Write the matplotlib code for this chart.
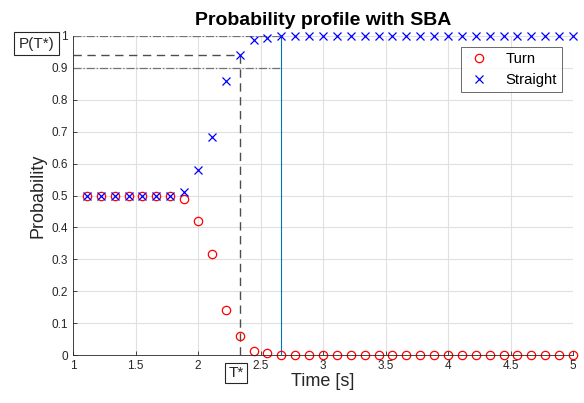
import numpy as np
import matplotlib
matplotlib.use("Agg")
import matplotlib.pyplot as plt

plt.rcParams['font.family'] = ['Liberation Sans', 'DejaVu Sans']

# Data
k = np.arange(10, 46)
time = k / 9.0
turn = [0.5, 0.5, 0.5, 0.5, 0.5, 0.5, 0.5, 0.488, 0.42, 0.317, 0.142, 0.061, 0.011, 0.005] + [0.0] * 22
straight = [0.5, 0.5, 0.5, 0.5, 0.5, 0.5, 0.5, 0.512, 0.58, 0.683, 0.858, 0.939, 0.989, 0.995] + [1.0] * 22
t_star = 21 / 9.0
p_star = 0.939
t_end = 24 / 9.0
p_low = 0.9
p_high = 1.0

xticks = [1, 1.5, 2, 2.5, 3, 3.5, 4, 4.5, 5]
xticklabels = ['1', '1.5', '2', '2.5', '3', '3.5', '4', '4.5', '5']
yticks = np.round(np.arange(0, 1.01, 0.1), 1)
yticklabels = ['0', '0.1', '0.2', '0.3', '0.4', '0.5', '0.6', '0.7', '0.8', '0.9', '1']

fig = plt.figure(figsize=(5.84, 4.03), dpi=100)
ax = fig.add_axes([73/584, 1-355/403, 500/584, 319/403])

tc = (0.15, 0.15, 0.15)
ax.grid(True, color=(0.88, 0.88, 0.88), linewidth=0.8)
ax.set_axisbelow(True)

# reference lines
ax.plot([1, t_end], [p_high, p_high], color=(0.45, 0.45, 0.45), ls='-.', lw=0.9)
ax.plot([1, t_end], [p_low, p_low], color=(0.45, 0.45, 0.45), ls='-.', lw=0.9)
ax.plot([1, t_star], [p_star, p_star], color=(0.3, 0.3, 0.3), ls=(0, (6, 4)), lw=1.0)
ax.plot([t_star, t_star], [0, p_star], color=(0.3, 0.3, 0.3), ls=(0, (6, 4)), lw=1.0)
ax.plot([t_end, t_end], [0, 1], color='#0072BD', lw=0.8)

ax.plot(time, turn, 'o', mfc='none', mec='r', ms=6, mew=0.9, label='Turn', clip_on=False)
ax.plot(time, straight, 'x', color='b', ms=5.5, mew=0.9, label='Straight', clip_on=False)

ax.set_xlim(1, 5)
ax.set_ylim(0, 1)
ax.set_xticks(xticks)
ax.set_xticklabels(xticklabels)
ax.set_yticks(yticks)
ax.set_yticklabels(yticklabels)
ax.tick_params(direction='in', length=3, colors=tc, labelsize=8.5, width=0.6)
for s in ['top', 'right']:
    ax.spines[s].set_visible(False)
for s in ['left', 'bottom']:
    ax.spines[s].set_color(tc)
    ax.spines[s].set_linewidth(0.6)

ax.set_xlabel('Time [s]', fontsize=13, color=tc, labelpad=1)
ax.set_ylabel('Probability', fontsize=13, color=tc, labelpad=4)
ax.set_title('Probability profile with SBA', fontsize=14, fontweight='bold', pad=8)

leg = ax.legend(loc='upper right', bbox_to_anchor=(0.978, 0.9655), fontsize=10.7,
                frameon=True, fancybox=False, edgecolor=(0.15, 0.15, 0.15),
                handlelength=1.6, handletextpad=1.0, borderpad=0.35, labelspacing=0.45,
                borderaxespad=0.0)
leg.get_frame().set_linewidth(0.6)

ax.text(0.85, p_star + 0.015, 'P(T*)', ha='right', va='bottom', fontsize=11, color=tc,
        clip_on=False, bbox=dict(boxstyle='square,pad=0.3', fc='white', ec=tc, lw=0.8))
ax.text(t_star - 0.03, -0.035, 'T*', ha='center', va='top', fontsize=11, color=tc,
        clip_on=False, bbox=dict(boxstyle='square,pad=0.2', fc='white', ec=tc, lw=0.8))

fig.savefig('out.png', dpi=100)
